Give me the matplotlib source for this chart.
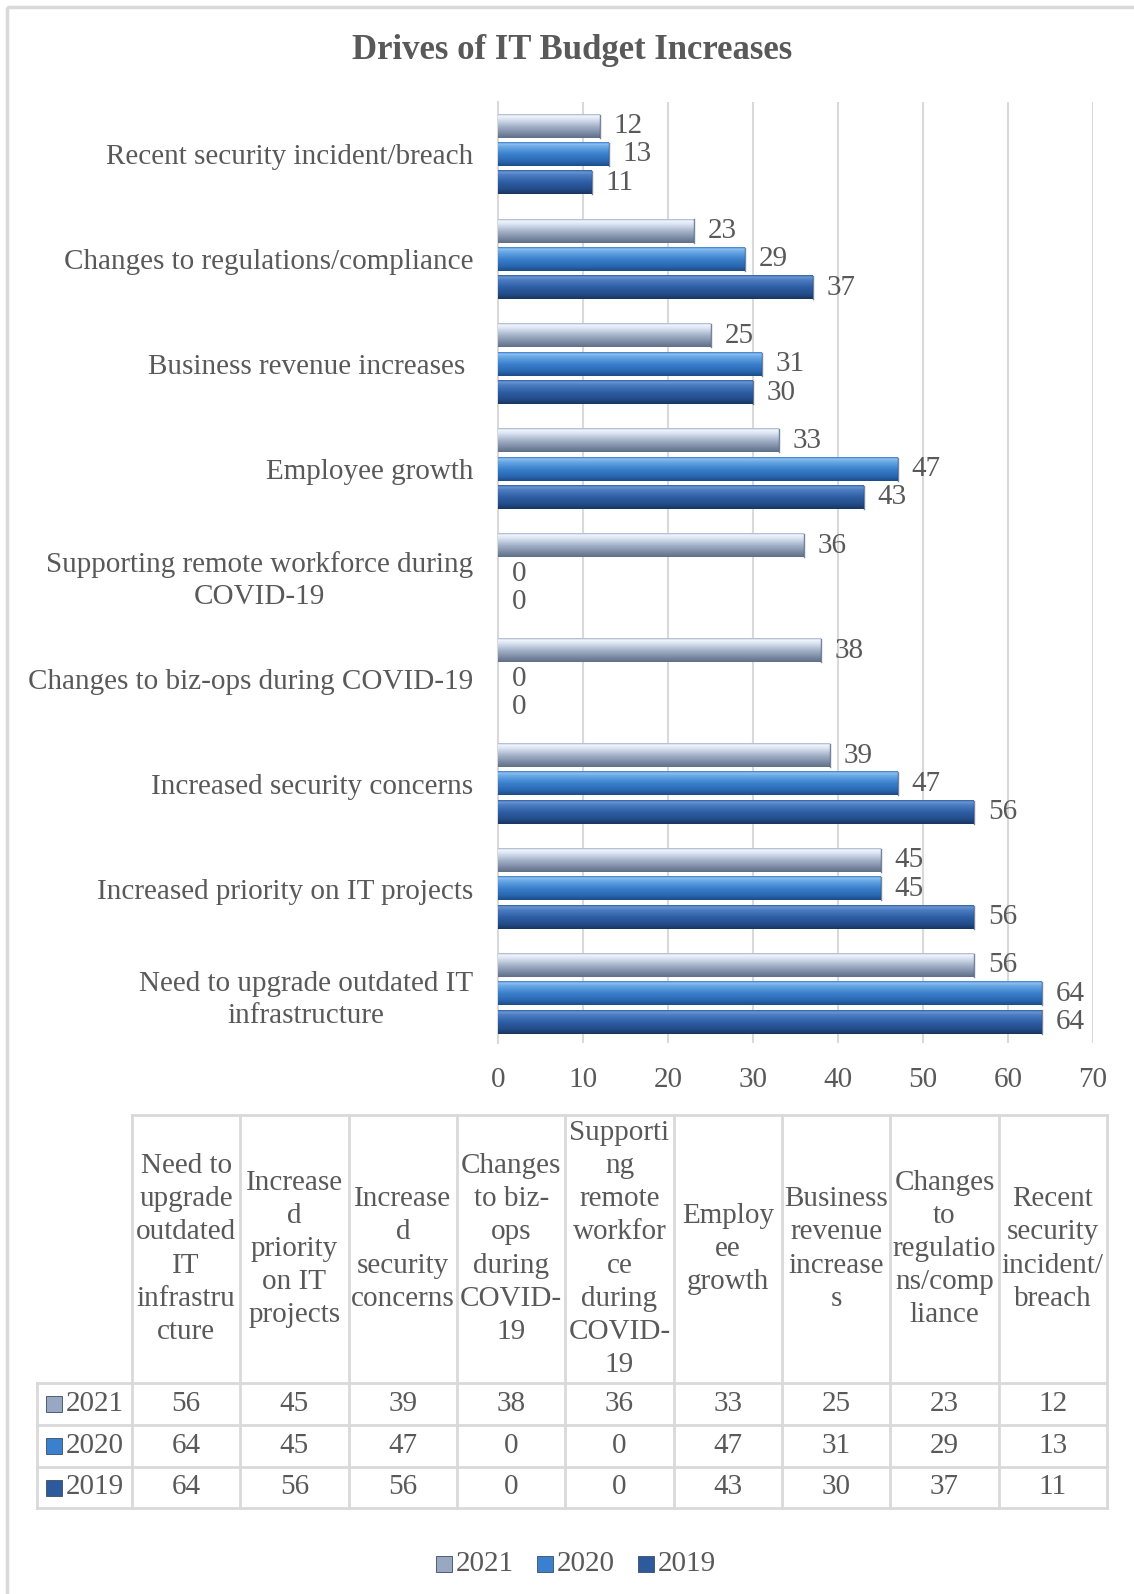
import numpy as np
import matplotlib.pyplot as plt
from matplotlib.colors import LinearSegmentedColormap
from matplotlib.patches import Rectangle
import matplotlib.transforms as mtransforms

# data (bottom to top in the chart, left to right in the table)
categories = ["Need to upgrade outdated IT\ninfrastructure",
              "Increased priority on IT projects",
              "Increased security concerns",
              "Changes to biz-ops during COVID-19",
              "Supporting remote workforce during\nCOVID-19",
              "Employee growth",
              "Business revenue increases ",
              "Changes to regulations/compliance",
              "Recent security incident/breach"]
table_heads = ["Need to\nupgrade\noutdated\nIT\ninfrastru\ncture",
               "Increase\nd\npriority\non IT\nprojects",
               "Increase\nd\nsecurity\nconcerns",
               "Changes\nto biz-\nops\nduring\nCOVID-\n19",
               "Supporti\nng\nremote\nworkfor\nce\nduring\nCOVID-\n19",
               "Employ\nee\ngrowth",
               "Business\nrevenue\nincrease\ns",
               "Changes\nto\nregulatio\nns/comp\nliance",
               "Recent\nsecurity\nincident/\nbreach"]
years = ["2021", "2020", "2019"]
v2021 = [56, 45, 39, 38, 36, 33, 25, 23, 12]
v2020 = [64, 45, 47, 0, 0, 47, 31, 29, 13]
v2019 = [64, 56, 56, 0, 0, 43, 30, 37, 11]
series = [v2021, v2020, v2019]

plt.rcParams['font.family'] = ['Liberation Serif', 'DejaVu Serif']
txt = '#595959'
grid_c = '#d9d9d9'
fs = 21

cmaps = [
    LinearSegmentedColormap.from_list('c21', [(0, '#5f6f88'), (0.2, '#7b8aa3'), (0.5, '#a6b4ca'),
                                              (0.8, '#dde5f3'), (0.93, '#f2f5fb'), (1, '#a3b3cd')]),
    LinearSegmentedColormap.from_list('c20', [(0, '#1b4c88'), (0.2, '#2a68b1'), (0.5, '#3a80cd'),
                                              (0.8, '#68a7e4'), (0.93, '#8dc0ef'), (1, '#3a7ccc')]),
    LinearSegmentedColormap.from_list('c19', [(0, '#18355f'), (0.2, '#234d8a'), (0.5, '#2e5ea4'),
                                              (0.8, '#4c7dc1'), (0.93, '#6a96d2'), (1, '#2e5ea4')]),
]
solid = ['#98a8c2', '#3a80cd', '#2c5a9c']

W, H = 1134, 1594
fig = plt.figure(figsize=(W / 100, H / 100), dpi=100)

# overlay axes in pixel coordinates for the table, legend, title and border
ov = fig.add_axes([0, 0, 1, 1])
ov.set_xlim(0, W)
ov.set_ylim(H, 0)
ov.axis('off')
ov.add_patch(Rectangle((7, 7), W + 20, H + 20, fill=False, ec=grid_c, lw=2.5))

ov.text(W / 2 + 5, 50, "Drives of IT Budget Increases", ha='center', va='center',
        fontsize=25, fontweight='bold', color=txt)

# bar chart
ax = fig.add_axes([498 / W, 1 - 1043 / H, (1093 - 498) / W, (1043 - 102) / H])
y = np.arange(len(categories))
offs = [0.27, 0.0, -0.27]
bh = 0.22
grad = np.linspace(0, 1, 64).reshape(-1, 1)
for k in range(3):
    bars = ax.barh(y + offs[k], series[k], height=bh, color=solid[k], zorder=2)
    for p, v in zip(bars, series[k]):
        x0, y0, w, h = p.get_x(), p.get_y(), p.get_width(), p.get_height()
        if w > 0:
            ax.imshow(grad, extent=[x0, x0 + w, y0, y0 + h], origin='lower',
                      aspect='auto', cmap=cmaps[k], zorder=3, interpolation='bilinear')
            ax.plot([x0 + w, x0 + w], [y0, y0 + h], color='#1f3358', lw=1, zorder=4, alpha=0.6)
        ax.annotate(str(v), (w, p.get_y() + h / 2), xytext=(10, 0), textcoords='offset points',
                    ha='left', va='center', fontsize=fs, color=txt)

ax.set_xlim(0, 70)
ax.set_ylim(-0.47, 8.5)
ax.set_xticks(range(0, 71, 10))
ax.set_yticks(y)
ax.set_yticklabels(categories)
up = mtransforms.ScaledTranslation(0, 4 / 72, fig.dpi_scale_trans)
for t in ax.get_yticklabels():
    t.set_multialignment('center')
    t.set_linespacing(1.3)
    if '\n' in t.get_text():
        t.set_transform(t.get_transform() + up)
ax.tick_params(axis='y', length=0, pad=18, labelsize=fs, labelcolor=txt)
ax.tick_params(axis='x', length=0, pad=17, labelsize=fs, labelcolor=txt)
ax.grid(axis='x', color=grid_c, lw=1.5, zorder=0)
ax.set_axisbelow(True)
for s in ['top', 'right', 'bottom']:
    ax.spines[s].set_visible(False)
ax.spines['left'].set_color(grid_c)
ax.spines['left'].set_linewidth(1.5)

# data table
tx0, tx1 = 132, 1107
cw = (tx1 - tx0) / len(table_heads)
rows = [1115, 1383, 1425, 1467, 1508]
lc = dict(color=grid_c, lw=2)
ov.plot([tx0, tx1], [rows[0], rows[0]], **lc)
for r in rows[1:]:
    ov.plot([37, tx1], [r, r], **lc)
for k in range(len(table_heads) + 1):
    ov.plot([tx0 + k * cw] * 2, [rows[0], rows[-1]], **lc)
ov.plot([37, 37], [rows[1], rows[-1]], **lc)

for j, head in enumerate(table_heads):
    ov.text(tx0 + (j + 0.5) * cw, (rows[0] + rows[1]) / 2, head, ha='center', va='center',
            multialignment='center', fontsize=fs, color=txt, linespacing=1.36)
for i, (yr, vals) in enumerate(zip(years, series)):
    yc = (rows[i + 1] + rows[i + 2]) / 2
    ov.add_patch(Rectangle((46, yc - 8), 16, 16, fc=solid[i], ec='#3a4a66', lw=0.6))
    ov.text(66, yc, yr, ha='left', va='center', fontsize=fs, color=txt)
    for j, v in enumerate(vals):
        ov.text(tx0 + (j + 0.5) * cw, yc, str(v), ha='center', va='center', fontsize=fs, color=txt)

# legend
leg_x = [436, 537, 638]
for i, yr in enumerate(years):
    ov.add_patch(Rectangle((leg_x[i], 1556), 16, 16, fc=solid[i], ec='#3a4a66', lw=0.6))
    ov.text(leg_x[i] + 20, 1564, yr, ha='left', va='center', fontsize=fs, color=txt)

fig.savefig('out.png', dpi=100)
